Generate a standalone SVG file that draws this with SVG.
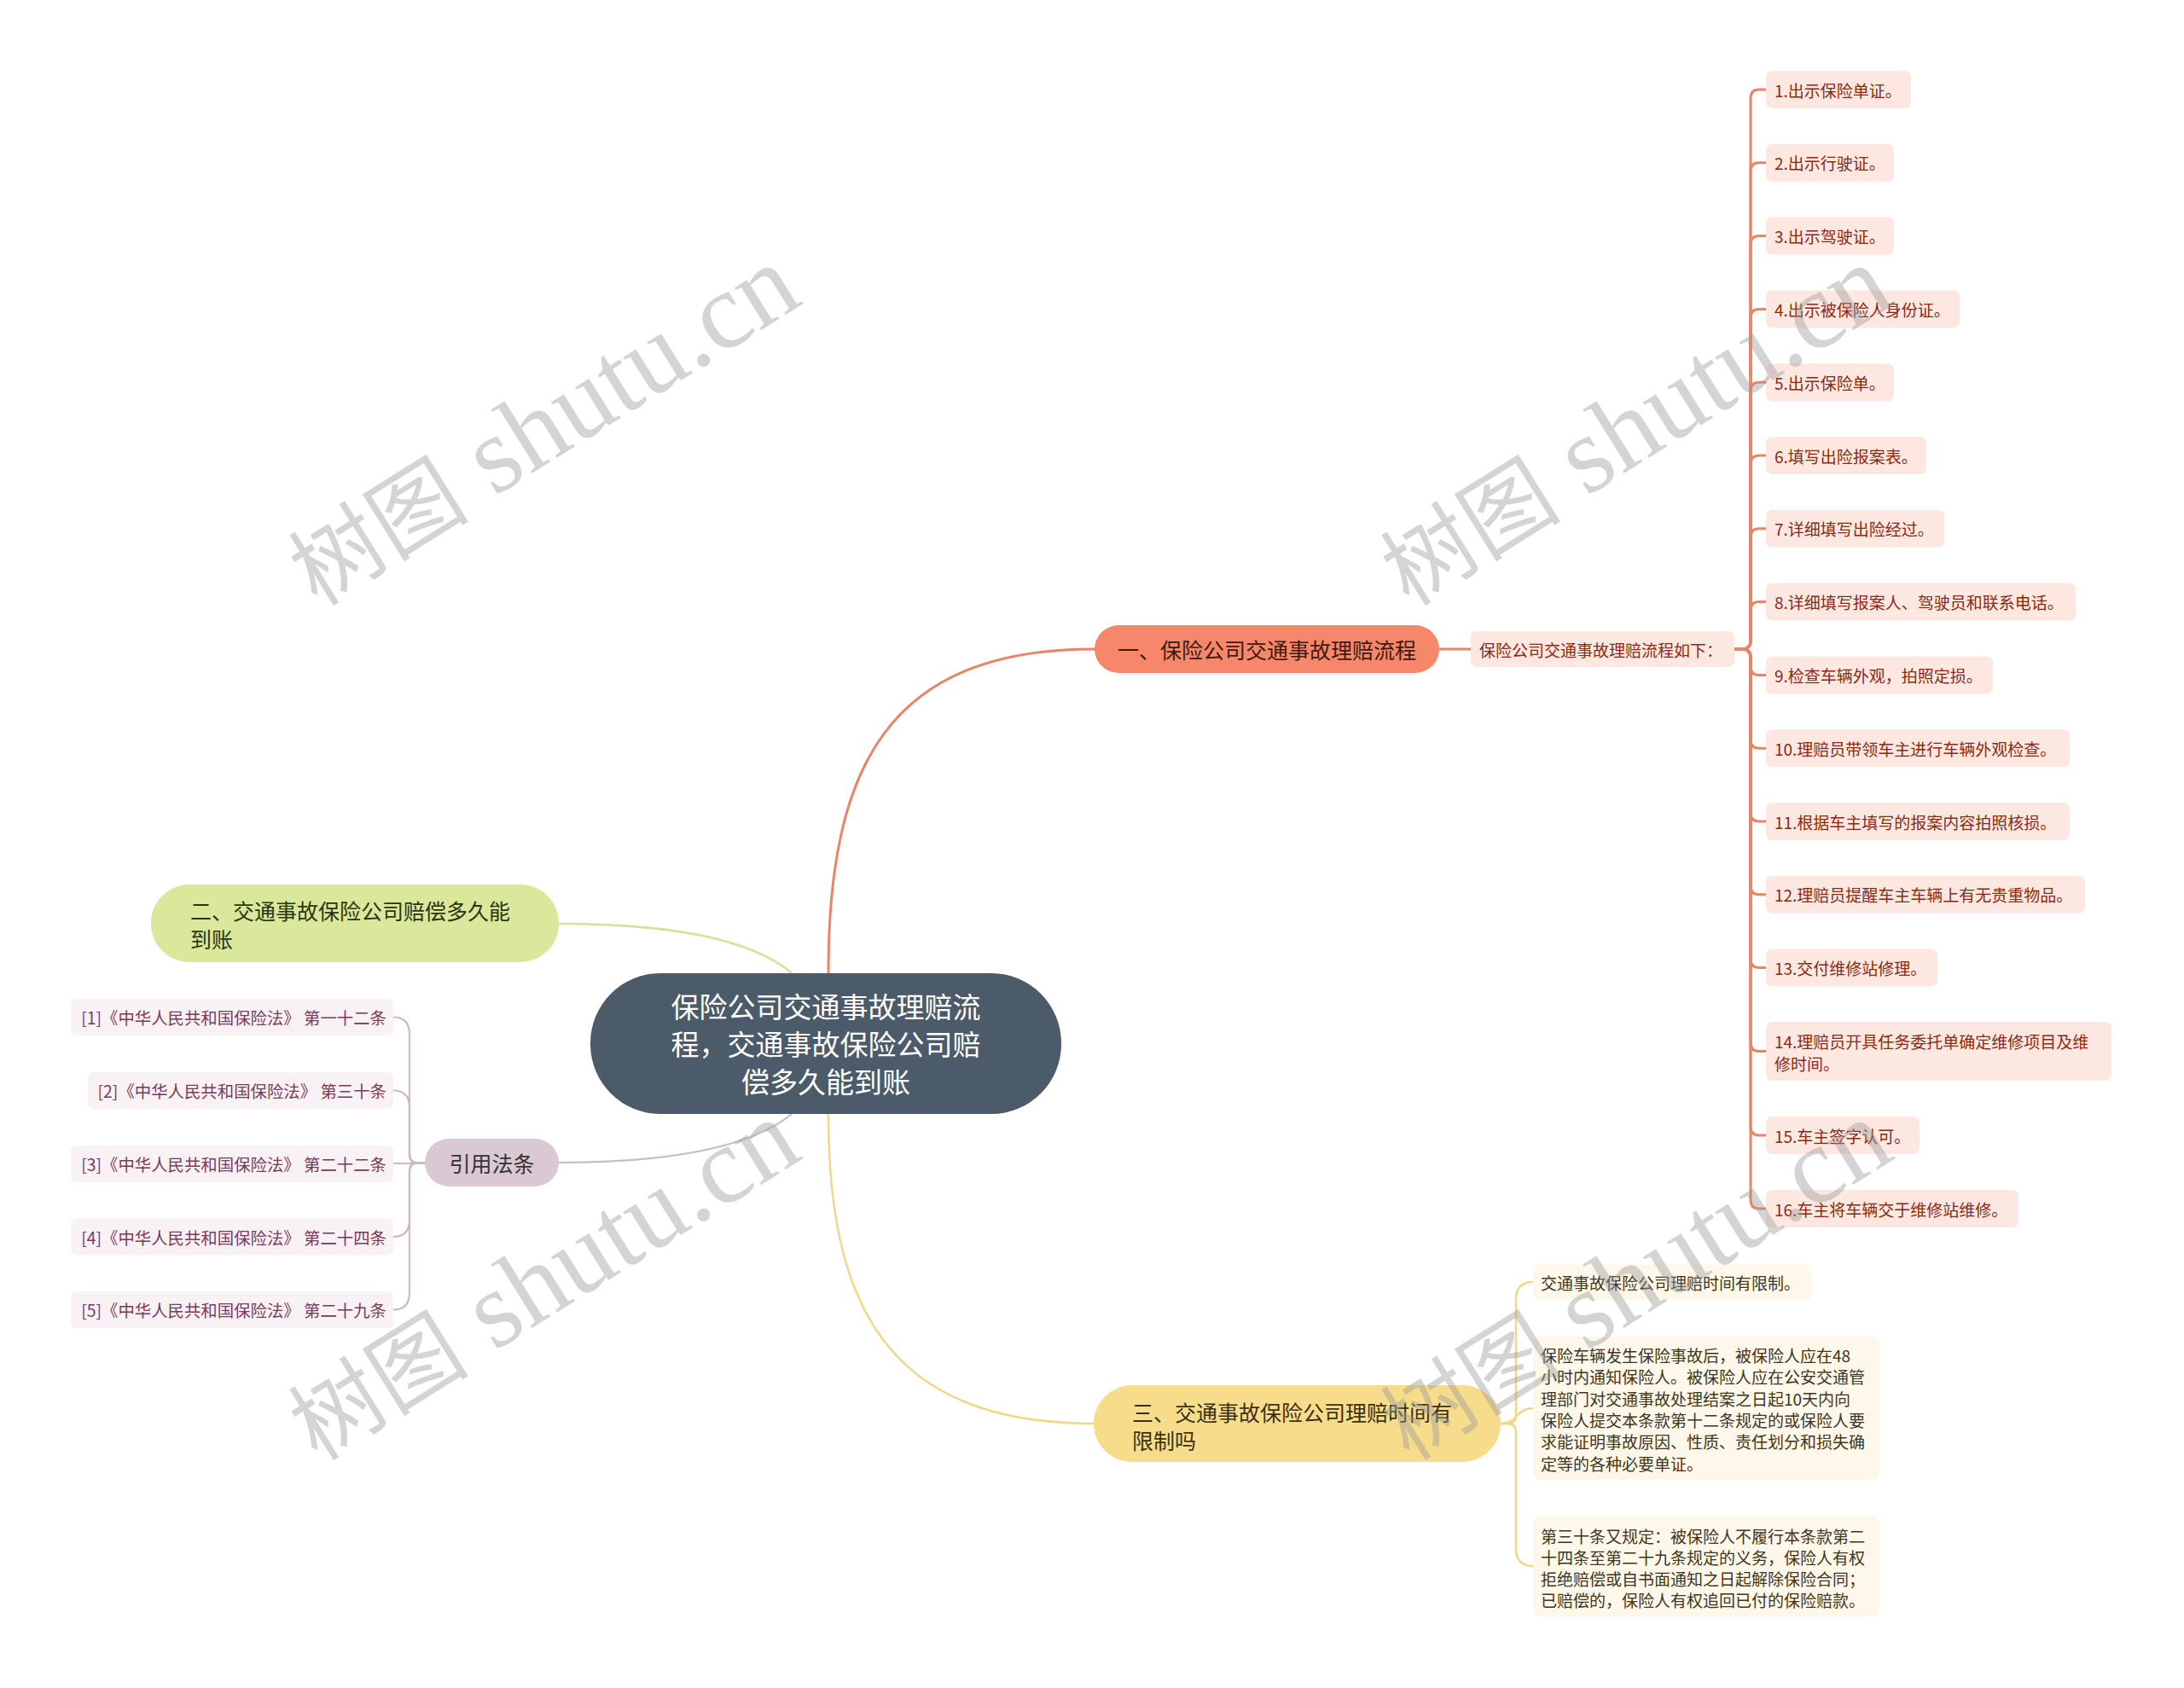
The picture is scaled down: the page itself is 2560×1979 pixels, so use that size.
<svg xmlns="http://www.w3.org/2000/svg" width="2560" height="1979" viewBox="0 0 2560 1979">
<style>
.t{font-family:"Noto Sans CJK SC","Liberation Sans",sans-serif;dominant-baseline:central}
.c1{fill:#f6876a}.l1{fill:#fde7e1}.tx1{fill:#8a2a10;font-size:19px}
.c2{fill:#d9e89b}.c3{fill:#f7dc8c}.l3{fill:#fdf8e9}.tx3{fill:#3f3520;font-size:19px}
.c4{fill:#dac9d2}.l4{fill:#f8f2f5}.tx4{fill:#7b3a5c;font-size:19.4px}
.e{fill:none;stroke-linecap:round}
.e1{stroke:#ea8466;stroke-width:3}
.e2{stroke:#d3e397;stroke-width:2.5}
.e3{stroke:#f0d889;stroke-width:2.5}
.e4{stroke:#cdb9c5;stroke-width:2.2}
.wm{font-family:"Liberation Serif","Noto Sans CJK SC",serif;fill:#9a9a9a;opacity:0.42}
</style>
<rect width="2560" height="1979" fill="#ffffff"/>

<g id="connectors">
  <path class="e e1" d="M971 1141 C971 900 1040 761 1283 761"/>
  <path class="e e3" d="M971 1306 C971 1530 1040 1669 1282 1669"/>
  <path class="e e2" d="M655 1083 C780 1083 880 1100 928 1141"/>
  <path class="e e4" d="M655 1363 C780 1363 880 1346 928 1306"/>
  <path class="e e1" d="M1687 761 H1724"/>
  <path class="e e1" d="M2033 761 H2042 Q2052 761 2052 751 V115 Q2052 105 2062 105 H2070"/>
  <path class="e e1" d="M2033 761 H2042 Q2052 761 2052 751 V200.8 Q2052 190.8 2062 190.8 H2070"/>
  <path class="e e1" d="M2033 761 H2042 Q2052 761 2052 751 V286.6 Q2052 276.6 2062 276.6 H2070"/>
  <path class="e e1" d="M2033 761 H2042 Q2052 761 2052 751 V372.4 Q2052 362.4 2062 362.4 H2070"/>
  <path class="e e1" d="M2033 761 H2042 Q2052 761 2052 751 V458.2 Q2052 448.2 2062 448.2 H2070"/>
  <path class="e e1" d="M2033 761 H2042 Q2052 761 2052 751 V544 Q2052 534 2062 534 H2070"/>
  <path class="e e1" d="M2033 761 H2042 Q2052 761 2052 751 V629.8 Q2052 619.8 2062 619.8 H2070"/>
  <path class="e e1" d="M2033 761 H2042 Q2052 761 2052 751 V715.6 Q2052 705.6 2062 705.6 H2070"/>
  <path class="e e1" d="M2033 761 H2042 Q2052 761 2052 771 V781.4 Q2052 791.4 2062 791.4 H2070"/>
  <path class="e e1" d="M2033 761 H2042 Q2052 761 2052 771 V867.2 Q2052 877.2 2062 877.2 H2070"/>
  <path class="e e1" d="M2033 761 H2042 Q2052 761 2052 771 V953 Q2052 963 2062 963 H2070"/>
  <path class="e e1" d="M2033 761 H2042 Q2052 761 2052 771 V1038.8 Q2052 1048.8 2062 1048.8 H2070"/>
  <path class="e e1" d="M2033 761 H2042 Q2052 761 2052 771 V1124.6 Q2052 1134.6 2062 1134.6 H2070"/>
  <path class="e e1" d="M2033 761 H2042 Q2052 761 2052 771 V1222.5 Q2052 1232.5 2062 1232.5 H2070"/>
  <path class="e e1" d="M2033 761 H2042 Q2052 761 2052 771 V1321 Q2052 1331 2062 1331 H2070"/>
  <path class="e e1" d="M2033 761 H2042 Q2052 761 2052 771 V1407 Q2052 1417 2062 1417 H2070"/>
  <path class="e e4" d="M498 1363.5 H490 Q480 1363.5 480 1353.5 V1212.5 Q480 1192.5 461 1192.5"/>
  <path class="e e4" d="M498 1363.5 H490 Q480 1363.5 480 1353.5 V1298.5 Q480 1278.5 461 1278.5"/>
  <path class="e e4" d="M498 1364 H461"/>
  <path class="e e4" d="M498 1363.5 H490 Q480 1363.5 480 1373.5 V1430 Q480 1450 461 1450"/>
  <path class="e e4" d="M498 1363.5 H490 Q480 1363.5 480 1373.5 V1515.5 Q480 1535.5 461 1535.5"/>
  <path class="e e3" d="M1759 1669 H1767 Q1777 1669 1777 1659 V1523 Q1777 1503 1797 1503"/>
  <path class="e e3" d="M1759 1669 C1780 1669 1776 1651 1797 1651"/>
  <path class="e e3" d="M1759 1669 H1767 Q1777 1669 1777 1679 V1816 Q1777 1836 1797 1836"/>
</g>

<g id="root">
  <rect x="692" y="1141" width="552" height="165" rx="82" fill="#4b5b69"/>
  <text class="t" font-size="33" fill="#ffffff" text-anchor="middle"><tspan x="968" y="1179">保险公司交通事故理赔流</tspan><tspan x="968" y="1223">程，交通事故保险公司赔</tspan><tspan x="968" y="1267">偿多久能到账</tspan></text>
</g>

<g id="n1">
  <rect class="c1" x="1283" y="733" width="404" height="56" rx="28"/>
  <text class="t" x="1485" y="761" font-size="25" fill="#3f1a0f" text-anchor="middle">一、保险公司交通事故理赔流程</text>
</g>
<g id="n1-0">
  <rect class="l1" x="1724" y="740" width="309" height="42" rx="7"/>
  <text class="t tx1" x="1734" y="761">保险公司交通事故理赔流程如下：</text>
</g>
<g id="n1-1"><rect class="l1" x="2070" y="83" width="170" height="44" rx="7"/><text class="t tx1" x="2080" y="105">1.出示保险单证。</text></g>
<g id="n1-2"><rect class="l1" x="2070" y="168.8" width="150" height="44" rx="7"/><text class="t tx1" x="2080" y="190.8">2.出示行驶证。</text></g>
<g id="n1-3"><rect class="l1" x="2070" y="254.6" width="150" height="44" rx="7"/><text class="t tx1" x="2080" y="276.6">3.出示驾驶证。</text></g>
<g id="n1-4"><rect class="l1" x="2070" y="340.4" width="227" height="44" rx="7"/><text class="t tx1" x="2080" y="362.4">4.出示被保险人身份证。</text></g>
<g id="n1-5"><rect class="l1" x="2070" y="426.2" width="150" height="44" rx="7"/><text class="t tx1" x="2080" y="448.2">5.出示保险单。</text></g>
<g id="n1-6"><rect class="l1" x="2070" y="512" width="188" height="44" rx="7"/><text class="t tx1" x="2080" y="534">6.填写出险报案表。</text></g>
<g id="n1-7"><rect class="l1" x="2070" y="597.8" width="209" height="44" rx="7"/><text class="t tx1" x="2080" y="619.8">7.详细填写出险经过。</text></g>
<g id="n1-8"><rect class="l1" x="2070" y="683.6" width="363" height="44" rx="7"/><text class="t tx1" x="2080" y="705.6">8.详细填写报案人、驾驶员和联系电话。</text></g>
<g id="n1-9"><rect class="l1" x="2070" y="769.4" width="266" height="44" rx="7"/><text class="t tx1" x="2080" y="791.4">9.检查车辆外观，拍照定损。</text></g>
<g id="n1-10"><rect class="l1" x="2070" y="855.2" width="356" height="44" rx="7"/><text class="t tx1" x="2080" y="877.2">10.理赔员带领车主进行车辆外观检查。</text></g>
<g id="n1-11"><rect class="l1" x="2070" y="941" width="356" height="44" rx="7"/><text class="t tx1" x="2080" y="963">11.根据车主填写的报案内容拍照核损。</text></g>
<g id="n1-12"><rect class="l1" x="2070" y="1026.8" width="374" height="44" rx="7"/><text class="t tx1" x="2080" y="1048.8">12.理赔员提醒车主车辆上有无贵重物品。</text></g>
<g id="n1-13"><rect class="l1" x="2070" y="1112.6" width="201" height="44" rx="7"/><text class="t tx1" x="2080" y="1134.6">13.交付维修站修理。</text></g>
<g id="n1-14"><rect class="l1" x="2070" y="1198" width="405" height="69" rx="7"/><text class="t tx1"><tspan x="2080" y="1220">14.理赔员开具任务委托单确定维修项目及维</tspan><tspan x="2080" y="1246">修时间。</tspan></text></g>
<g id="n1-15"><rect class="l1" x="2070" y="1309" width="180" height="44" rx="7"/><text class="t tx1" x="2080" y="1331">15.车主签字认可。</text></g>
<g id="n1-16"><rect class="l1" x="2070" y="1395" width="296" height="44" rx="7"/><text class="t tx1" x="2080" y="1417">16.车主将车辆交于维修站维修。</text></g>

<g id="n2">
  <rect class="c2" x="177" y="1037" width="478" height="91" rx="45"/>
  <text class="t" font-size="25" fill="#2c3510"><tspan x="223" y="1067">二、交通事故保险公司赔偿多久能</tspan><tspan x="223" y="1100">到账</tspan></text>
</g>

<g id="n4">
  <rect class="c4" x="498" y="1335" width="157" height="56" rx="28"/>
  <text class="t" x="576.5" y="1363" font-size="25" fill="#333333" text-anchor="middle">引用法条</text>
</g>
<g id="n4-1"><rect class="l4" x="83" y="1171" width="378" height="43" rx="7"/><text class="t tx4" x="453" y="1192.5" text-anchor="end">[1]《中华人民共和国保险法》 第一十二条</text></g>
<g id="n4-2"><rect class="l4" x="103" y="1257" width="358" height="43" rx="7"/><text class="t tx4" x="453" y="1278.5" text-anchor="end">[2]《中华人民共和国保险法》 第三十条</text></g>
<g id="n4-3"><rect class="l4" x="83" y="1343" width="378" height="43" rx="7"/><text class="t tx4" x="453" y="1364.5" text-anchor="end">[3]《中华人民共和国保险法》 第二十二条</text></g>
<g id="n4-4"><rect class="l4" x="83" y="1428.5" width="378" height="43" rx="7"/><text class="t tx4" x="453" y="1450" text-anchor="end">[4]《中华人民共和国保险法》 第二十四条</text></g>
<g id="n4-5"><rect class="l4" x="83" y="1514" width="378" height="43" rx="7"/><text class="t tx4" x="453" y="1535.5" text-anchor="end">[5]《中华人民共和国保险法》 第二十九条</text></g>

<g id="n3">
  <rect class="c3" x="1282" y="1624" width="477" height="90" rx="45"/>
  <text class="t" font-size="25" fill="#3b3112"><tspan x="1327" y="1655">三、交通事故保险公司理赔时间有</tspan><tspan x="1327" y="1688">限制吗</tspan></text>
</g>
<g id="n3-1"><rect class="l3" x="1797" y="1482" width="326" height="42" rx="7"/><text class="t tx3" x="1806" y="1503">交通事故保险公司理赔时间有限制。</text></g>
<g id="n3-2"><rect class="l3" x="1797" y="1567" width="406" height="168" rx="7"/><text class="t tx3"><tspan x="1806" y="1588">保险车辆发生保险事故后，被保险人应在48</tspan><tspan x="1806" y="1613.3">小时内通知保险人。被保险人应在公安交通管</tspan><tspan x="1806" y="1638.6">理部门对交通事故处理结案之日起10天内向</tspan><tspan x="1806" y="1663.9">保险人提交本条款第十二条规定的或保险人要</tspan><tspan x="1806" y="1689.2">求能证明事故原因、性质、责任划分和损失确</tspan><tspan x="1806" y="1714.5">定等的各种必要单证。</tspan></text></g>
<g id="n3-3"><rect class="l3" x="1797" y="1777" width="406" height="118" rx="7"/><text class="t tx3"><tspan x="1806" y="1800">第三十条又规定：被保险人不履行本条款第二</tspan><tspan x="1806" y="1825">十四条至第二十九条规定的义务，保险人有权</tspan><tspan x="1806" y="1850">拒绝赔偿或自书面通知之日起解除保险合同；</tspan><tspan x="1806" y="1875">已赔偿的，保险人有权追回已付的保险赔款。</tspan></text></g>

<g id="watermarks">
  <text class="wm" transform="translate(372,712) rotate(-32)"><tspan font-size="106">树图</tspan><tspan font-size="128"> shutu.cn</tspan></text>
  <text class="wm" transform="translate(1652,712) rotate(-32)"><tspan font-size="106">树图</tspan><tspan font-size="128"> shutu.cn</tspan></text>
  <text class="wm" transform="translate(372,1714) rotate(-32)"><tspan font-size="106">树图</tspan><tspan font-size="128"> shutu.cn</tspan></text>
  <text class="wm" transform="translate(1652,1714) rotate(-32)"><tspan font-size="106">树图</tspan><tspan font-size="128"> shutu.cn</tspan></text>
</g>
</svg>
